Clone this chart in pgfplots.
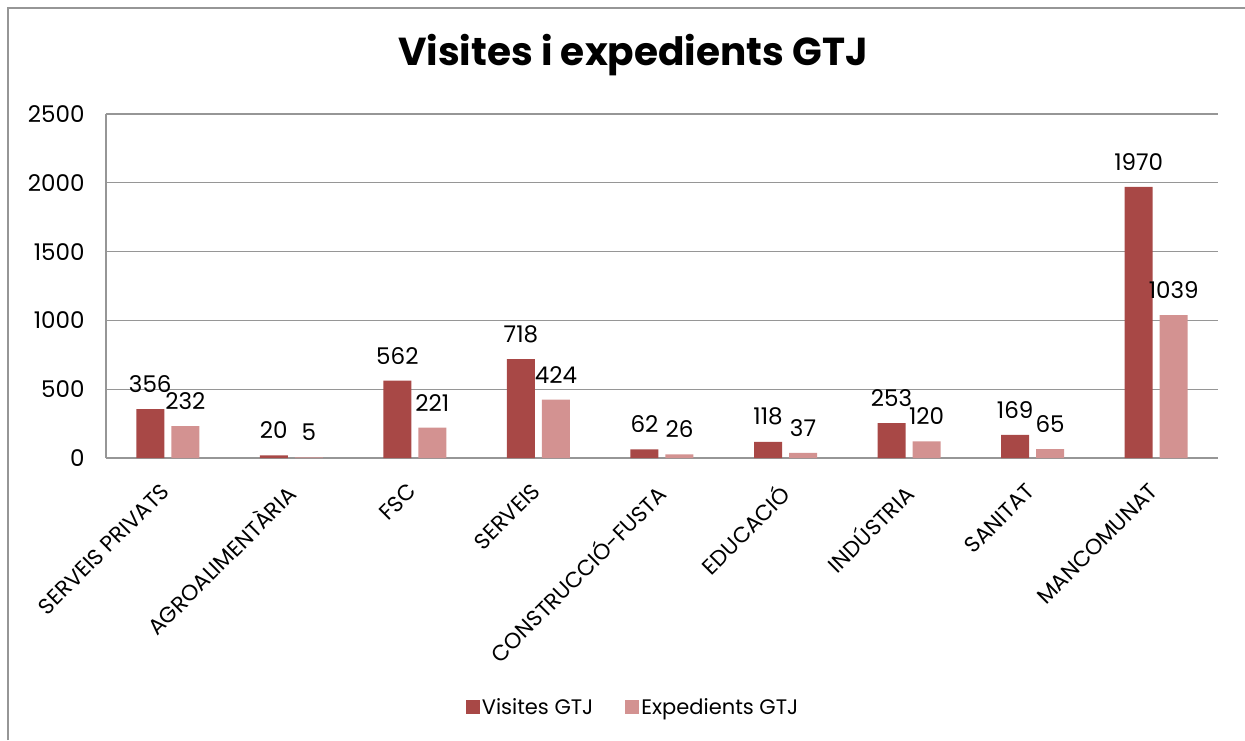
\documentclass[border=0pt]{standalone}
\usepackage{pgfplots}
\pgfplotsset{compat=1.18}
\usepackage{fontspec}
\setmainfont{Poppins}
\definecolor{barA}{RGB}{168,72,70}
\definecolor{barB}{RGB}{211,146,145}
\definecolor{gridc}{RGB}{150,150,150}
\begin{document}
\begin{tikzpicture}
\path[use as bounding box] (-106pt,-282pt) rectangle (1139pt,458pt);
\draw[gridc,line width=1.5pt] (-98pt,-282pt) -- (-98pt,450pt) -- (1139pt,450pt);
\node[font=\bfseries\fontsize{39}{44}\selectfont] at (527pt,403pt) {Visites i expedients GTJ};
\begin{axis}[
  at={(0pt,0pt)}, anchor=south west,
  width=1112pt, height=344pt, scale only axis,
  ybar=7pt, bar width=28pt,
  xmin=-0.5, xmax=8.5, ymin=0, ymax=2500,
  ytick={0,500,1000,1500,2000,2500},
  xtick={0,...,8},
  xticklabels={SERVEIS PRIVATS,AGROALIMENTÀRIA,FSC,SERVEIS,CONSTRUCCIÓ-FUSTA,EDUCACIÓ,INDÚSTRIA,SANITAT,MANCOMUNAT},
  xticklabel style={xshift=-8pt, yshift=-19pt, rotate=45, anchor=north east, font=\fontsize{22}{25}\selectfont},
  yticklabel style={font=\fontsize{23}{26}\selectfont, xshift=-18pt},
  /pgf/number format/assume math mode=true,
  /pgf/number format/1000 sep={},
  major tick length=0pt,
  axis x line*=bottom, axis y line*=left,
  axis line style={gridc, line width=1.2pt},
  ymajorgrids, grid style={gridc, line width=1.2pt},
  nodes near coords,
  every node near coord/.append style={font=\fontsize{23}{26}\selectfont, text=black, yshift=13pt},
  legend columns=2,
  legend style={at={(0.474,-0.724)}, anchor=center, draw=none, font=\fontsize{21}{24}\selectfont, /tikz/every even column/.append style={column sep=30pt}},
  legend image code/.code={\fill[#1] (0pt,-7pt) rectangle (14pt,7pt);},
]
\addplot[fill=barA, draw=none] coordinates {(0,356) (1,20) (2,562) (3,718) (4,62) (5,118) (6,253) (7,169) (8,1970)};
\addplot[fill=barB, draw=none] coordinates {(0,232) (1,5) (2,221) (3,424) (4,26) (5,37) (6,120) (7,65) (8,1039)};
\legend{Visites GTJ, Expedients GTJ}
\end{axis}
\end{tikzpicture}
\end{document}
